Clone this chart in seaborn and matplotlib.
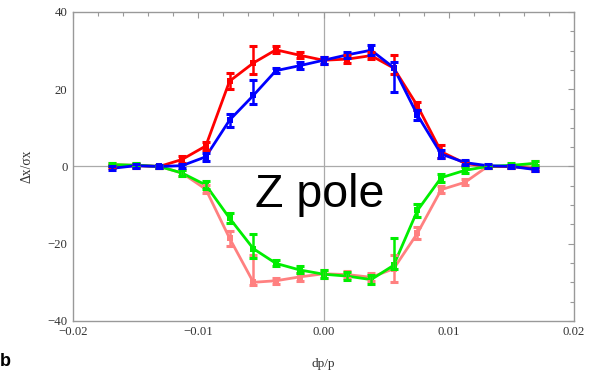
import numpy as np
import pandas as pd
import seaborn as sns
import matplotlib
matplotlib.use("Agg")
import matplotlib.pyplot as plt
from matplotlib.ticker import MultipleLocator

# Momentum offset dp/p of each measurement
dpp = [-0.0169, -0.0150, -0.0131, -0.0113, -0.0094, -0.0075, -0.0056, -0.0038, -0.0019,
       0.0, 0.0019, 0.0038, 0.0056, 0.0075, 0.0094, 0.0113, 0.0131, 0.0150, 0.0169]

# Normalised orbit shift and lower / upper error per data set
red = [0.0, 0.2, 0.0, 1.8, 5.3, 22.1, 26.8, 30.2, 28.8, 27.5, 27.8, 28.7, 25.5, 15.7, 3.8, 0.8, 0.0, 0.0, -0.6]
red_lo = [0.5, 0.5, 0.5, 0.8, 1.1, 2.1, 2.8, 0.9, 0.8, 0.9, 1.1, 1.0, 1.5, 1.1, 1.7, 0.6, 0.5, 0.5, 0.5]
red_hi = [0.5, 0.5, 0.5, 0.8, 1.1, 2.1, 4.5, 0.9, 0.8, 0.9, 1.1, 1.0, 3.3, 1.1, 1.7, 0.6, 0.5, 0.5, 0.5]

blue = [-0.5, 0.2, 0.0, 0.2, 2.5, 12.0, 18.4, 24.8, 26.1, 27.5, 28.9, 30.1, 25.6, 13.3, 3.2, 1.0, 0.2, 0.0, -0.8]
blue_lo = [0.5, 0.5, 0.5, 0.5, 1.0, 1.7, 2.3, 0.7, 0.9, 0.9, 0.8, 1.3, 6.4, 1.3, 1.0, 0.6, 0.5, 0.5, 0.5]
blue_hi = [0.5, 0.5, 0.5, 0.5, 1.0, 1.7, 3.9, 0.7, 0.9, 0.9, 0.8, 1.3, 1.4, 1.3, 1.0, 0.6, 0.5, 0.5, 0.5]

green = [0.5, 0.3, 0.0, -1.7, -4.8, -13.4, -21.3, -25.1, -26.8, -27.9, -28.4, -29.3, -25.6, -11.4, -2.9, -1.0, 0.0, 0.3, 0.8]
green_lo = [0.5, 0.5, 0.5, 0.8, 1.0, 1.3, 2.3, 0.8, 0.9, 1.0, 1.0, 1.2, 0.9, 1.7, 1.0, 0.8, 0.5, 0.5, 0.5]
green_hi = [0.5, 0.5, 0.5, 0.8, 1.0, 1.3, 3.7, 0.8, 0.9, 1.0, 1.0, 1.2, 7.1, 1.7, 1.0, 0.8, 0.5, 0.5, 0.5]

pink = [0.5, 0.3, 0.0, -1.7, -5.9, -18.6, -30.0, -29.6, -28.6, -27.8, -28.0, -28.7, -26.5, -17.3, -6.0, -4.1, 0.0, 0.0, 0.8]
pink_lo = [0.5, 0.5, 0.5, 0.8, 1.0, 2.0, 0.8, 0.8, 1.0, 1.0, 1.0, 1.0, 3.5, 1.5, 1.0, 0.8, 0.5, 0.5, 0.5]
pink_hi = [0.5, 0.5, 0.5, 0.8, 1.0, 2.0, 7.0, 0.8, 1.0, 1.0, 1.0, 1.0, 3.5, 1.5, 1.0, 0.8, 0.5, 0.5, 0.5]

series = [
    ("pink", pink, pink_lo, pink_hi, "#ff8080"),
    ("red", red, red_lo, red_hi, "#ff0000"),
    ("green", green, green_lo, green_hi, "#00ee00"),
    ("blue", blue, blue_lo, blue_hi, "#0000ff"),
]

sns.set_theme(style="white")
plt.rcParams["font.family"] = ["Liberation Serif", "DejaVu Serif"]

fig = plt.figure(figsize=(5.89, 3.71), dpi=100)
ax = fig.add_axes([0.124, 0.135, 0.8505, 0.8327])

# zero axes drawn through the frame
ax.axhline(0, color="#aaaaaa", lw=0.9, zorder=0)
ax.axvline(0, color="#aaaaaa", lw=0.9, zorder=0)

frames = []
for name, vals, lo, hi, col in series:
    frames.append(pd.DataFrame({"dpp": dpp, "val": vals, "set": name}))
df = pd.concat(frames, ignore_index=True)

palette = {name: col for name, _, _, _, col in series}
sns.lineplot(data=df, x="dpp", y="val", hue="set", palette=palette, hue_order=[s[0] for s in series],
             lw=2.0, marker="s", markersize=4, markeredgewidth=0, legend=False, ax=ax, sort=False)

for z, (name, vals, lo, hi, col) in enumerate(series):
    ax.errorbar(dpp, vals, yerr=[lo, hi], fmt="none", ecolor=col, elinewidth=1.8,
                capsize=3.2, capthick=2.2, zorder=3 + z)

ax.set_xlim(-0.02, 0.02)
ax.set_ylim(-40, 40)
ax.xaxis.set_major_locator(MultipleLocator(0.01))
ax.xaxis.set_minor_locator(MultipleLocator(0.002))
ax.yaxis.set_major_locator(MultipleLocator(20))
ax.yaxis.set_minor_locator(MultipleLocator(5))
ax.xaxis.set_major_formatter(matplotlib.ticker.FuncFormatter(
    lambda v, p: f"{v:.2f}".replace("-", "\u2212") if abs(v) > 1e-9 else "0.00"))
ax.yaxis.set_major_formatter(matplotlib.ticker.FuncFormatter(
    lambda v, p: f"{v:.0f}".replace("-", "\u2212")))

ax.tick_params(which="both", direction="in", top=True, right=True, color="#999999",
               labelcolor="#333333", labelsize=9.2)
ax.tick_params(which="major", length=4.5, width=0.8, pad=4)
ax.tick_params(which="minor", length=2.6, width=0.8)
for sp in ax.spines.values():
    sp.set_color("#999999")
    sp.set_linewidth(1.0)

ax.set_xlabel("dp/p", fontsize=9.5, color="#333333", labelpad=14)
ax.set_ylabel("\u0394x/\u03c3x", fontsize=9.8, color="#333333", labelpad=10)
ax.grid(False)

ax.text(-0.0003, -10.5, "Z pole", family=["Liberation Sans", "DejaVu Sans"], fontsize=33.5,
        color="black", ha="center", va="baseline", zorder=10)

fig.text(0.0, 0.002, "b", family=["Liberation Sans", "DejaVu Sans"], fontsize=13,
         fontweight="bold", color="black", ha="left", va="bottom")

fig.savefig("out.png", dpi=100)
